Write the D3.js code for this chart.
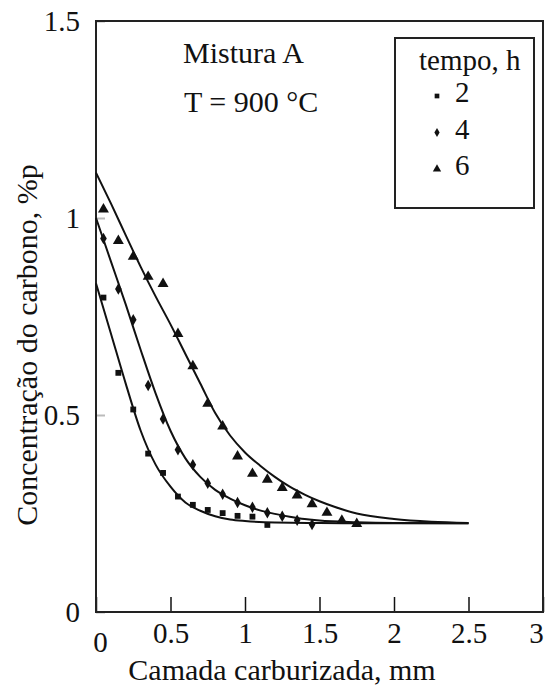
<html>
<head>
<script src="https://d3js.org/d3.v7.min.js"></script>
<style>
  body { margin: 0; background: white; }
  svg text { font-family: "Liberation Serif", "DejaVu Serif", "Noto Serif", serif !important; fill: #111; }
</style>
</head>
<body>
<svg id="chart" width="546" height="686"></svg>
<script>
// measured points (depth in mm, carbon %)
const depth2 = [0.05, 0.15, 0.25, 0.35, 0.45, 0.55, 0.65, 0.75, 0.85, 0.95, 1.05, 1.15];
const conc2  = [0.798, 0.607, 0.514, 0.402, 0.353, 0.293, 0.272, 0.259, 0.251, 0.244, 0.242, 0.221];
const depth4 = [0.05, 0.15, 0.25, 0.35, 0.45, 0.55, 0.65, 0.75, 0.85, 0.95, 1.05, 1.15, 1.25, 1.35, 1.45];
const conc4  = [0.948, 0.820, 0.742, 0.575, 0.490, 0.412, 0.374, 0.327, 0.299, 0.278, 0.266, 0.252, 0.243, 0.233, 0.222];
const depth6 = [0.05, 0.15, 0.25, 0.35, 0.45, 0.55, 0.65, 0.75, 0.85, 0.95, 1.05, 1.15, 1.25, 1.35, 1.45, 1.55, 1.65, 1.75];
const conc6  = [1.022, 0.942, 0.902, 0.851, 0.833, 0.706, 0.624, 0.529, 0.471, 0.395, 0.351, 0.336, 0.315, 0.296, 0.274, 0.252, 0.232, 0.224];

// fitted curves
const fitX2 = [0, 0.1, 0.2, 0.3, 0.4, 0.5, 0.6, 0.7, 0.8, 0.9, 1.0, 1.2, 1.5, 2.0, 2.5];
const fitY2 = [0.834, 0.707, 0.579, 0.460, 0.374, 0.318, 0.278, 0.257, 0.243, 0.235, 0.231, 0.227, 0.226, 0.225, 0.225];
const fitX4 = [0, 0.1, 0.2, 0.3, 0.4, 0.5, 0.6, 0.7, 0.8, 0.9, 1.0, 1.1, 1.2, 1.3, 1.4, 1.5, 1.75, 2.0, 2.5];
const fitY4 = [1.0, 0.89, 0.78, 0.665, 0.555, 0.46, 0.39, 0.343, 0.31, 0.288, 0.271, 0.258, 0.249, 0.242, 0.236, 0.232, 0.228, 0.226, 0.225];
const fitX6 = [0, 0.1, 0.2, 0.3, 0.4, 0.5, 0.6, 0.7, 0.8, 0.9, 1.0, 1.1, 1.2, 1.3, 1.4, 1.5, 1.6, 1.75, 2.0, 2.25, 2.5];
const fitY6 = [1.115, 1.037, 0.956, 0.876, 0.801, 0.73, 0.655, 0.58, 0.505, 0.448, 0.405, 0.372, 0.343, 0.318, 0.298, 0.281, 0.267, 0.25, 0.236, 0.229, 0.226];

const xTicks = [0, 0.5, 1, 1.5, 2, 2.5, 3];
const yTicks = [0, 0.5, 1, 1.5];
const legendLabels = ["2", "4", "6"];

const serif = '"Liberation Serif", "DejaVu Serif", "Noto Serif", serif';

let svg = d3.select("svg#chart").attr("font-family", serif);

let xScale = d3.scaleLinear().domain([0, 3]).range([96, 543]);
let yScale = d3.scaleLinear().domain([0, 1.5]).range([612, 21]);

// y axis: faint inner ticks
let leftAxis = d3.axisLeft(yScale).tickValues(yTicks)
    .tickSize(-9).tickPadding(16)
    .tickFormat(d => String(d));
let gy = svg.append("g")
    .attr("transform", "translate(" + 96 + ",0)")
    .call(leftAxis)
    .attr("font-family", serif);
gy.select(".domain").remove();
gy.selectAll("line").attr("stroke", "#bbb").attr("stroke-width", 2);
gy.selectAll("text").style("font-size", "29px");

// x axis: inner ticks
let bottomAxis = d3.axisBottom(xScale).tickValues(xTicks)
    .tickSizeInner(-15).tickSizeOuter(0).tickPadding(10)
    .tickFormat(d => String(d));
let gx = svg.append("g")
    .attr("transform", "translate(0," + 612 + ")")
    .call(bottomAxis)
    .attr("font-family", serif);
gx.select(".domain").remove();
gx.selectAll("line").attr("stroke", "#111").attr("stroke-width", 1.5);
gx.selectAll("text").style("font-size", "29px");
gx.selectAll(".tick").filter(d => d === 0).select("text").attr("dx", "4").attr("y", 19);
gx.selectAll(".tick").filter(d => d === 3).select("text").attr("dx", "-7");

// frame
svg.append("rect")
    .attr("x", 96).attr("y", 21).attr("width", 447).attr("height", 591)
    .attr("fill", "none").attr("stroke", "#222").attr("stroke-width", 2);

// axis titles
svg.append("text")
    .attr("x", 282).attr("y", 680)
    .attr("text-anchor", "middle")
    .style("font-size", "30px")
    .text("Camada carburizada, mm");

svg.append("text")
    .attr("transform", "translate(37,345) rotate(-90)")
    .attr("text-anchor", "middle")
    .style("font-size", "30px")
    .text("Concentração do carbono, %p");

// annotations
svg.append("text").attr("x", 183).attr("y", 63).style("font-size", "30px").text("Mistura A");
svg.append("text").attr("x", 184).attr("y", 112).style("font-size", "30px").text("T = 900 °C");

// fitted lines
let line = d3.line()
    .x(d => xScale(d[0]))
    .y(d => yScale(d[1]))
    .curve(d3.curveMonotoneX);

[[fitX2, fitY2], [fitX4, fitY4], [fitX6, fitY6]].forEach(s => {
    svg.append("path")
        .attr("d", line(s[0].map((x, i) => [x, s[1][i]])))
        .attr("fill", "none")
        .attr("stroke", "#111")
        .attr("stroke-width", 2);
});

// points
const series = [
    { xs: depth2, ys: conc2, sym: d3.symbolSquare, size: 34, lsize: 22 },
    { xs: depth4, ys: conc4, sym: d3.symbolDiamond, size: 38, lsize: 24 },
    { xs: depth6, ys: conc6, sym: d3.symbolTriangle, size: 52, lsize: 30 }
];
series.forEach(s => {
    s.xs.forEach((x, i) => {
        svg.append("path")
            .attr("d", d3.symbol().type(s.sym).size(s.size)())
            .attr("transform", "translate(" + xScale(x) + "," + yScale(s.ys[i]) + ")")
            .attr("fill", "#111");
    });
});

// legend
svg.append("rect")
    .attr("x", 395).attr("y", 38).attr("width", 139).attr("height", 170)
    .attr("fill", "white").attr("stroke", "#222").attr("stroke-width", 2);
svg.append("text").attr("x", 419).attr("y", 70).style("font-size", "29px").text("tempo, h");
series.forEach((s, i) => {
    let yy = 102 + i * 36.5;
    svg.append("path")
        .attr("d", d3.symbol().type(s.sym).size(s.lsize)())
        .attr("transform", "translate(" + 437 + "," + (yy - 6) + ")")
        .attr("fill", "#111");
    svg.append("text").attr("x", 455).attr("y", yy).style("font-size", "29px").text(legendLabels[i]);
});
</script>
</body>
</html>
